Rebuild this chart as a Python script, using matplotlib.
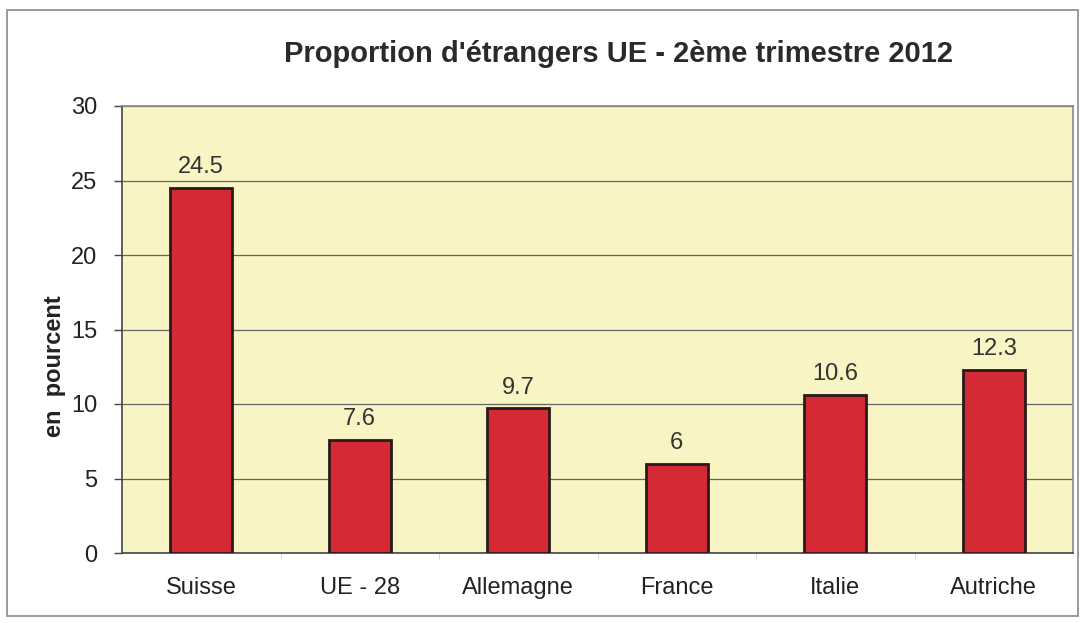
import matplotlib
matplotlib.use("Agg")
import matplotlib.pyplot as plt
from matplotlib.patches import Rectangle

categories = ["Suisse", "UE - 28", "Allemagne", "France", "Italie", "Autriche"]
values = [24.5, 7.6, 9.7, 6, 10.6, 12.3]
value_labels = ["24.5", "7.6", "9.7", "6", "10.6", "12.3"]
yticks = [0, 5, 10, 15, 20, 25, 30]

plt.rcParams['font.family'] = ['Liberation Sans', 'DejaVu Sans']

W, H = 1083, 623
fig = plt.figure(figsize=(W / 100, H / 100), dpi=100)
fig.patch.set_facecolor('white')

# outer border
fig.add_artist(Rectangle((7 / W, 1 - 616 / H), (1078 - 7) / W, (616 - 10) / H,
                         transform=fig.transFigure, fill=False,
                         edgecolor='#8a8a8a', linewidth=1.2))

left, right, top, bottom = 122, 1073, 106, 553
ax = fig.add_axes([left / W, 1 - bottom / H, (right - left) / W, (bottom - top) / H])
ax.set_facecolor('#f8f4c4')

x = list(range(len(categories)))
ax.bar(x, values, width=0.39, color='#d42a35', edgecolor='#2a1a1a', linewidth=2, zorder=3)

for xi, v, lab in zip(x, values, value_labels):
    ax.text(xi, v + 1.0, lab, ha='center', va='baseline', fontsize=17, color='#333333')

ax.set_xlim(-0.5, len(categories) - 0.5)
ax.set_ylim(0, 30)
ax.set_yticks(yticks)
ax.set_yticklabels([str(t) for t in yticks], fontsize=17, color='#222222')
ax.yaxis.grid(True, color='#666666', linewidth=0.9, zorder=0)
ax.set_axisbelow(True)
ax.tick_params(axis='y', length=6, width=1, color='#444444', pad=12)

ax.set_xticks(x)
ax.set_xticklabels(categories, fontsize=17, color='#222222')
ax.tick_params(axis='x', length=0, pad=17)
# minor boundary ticks
ax.set_xticks([i + 0.5 for i in range(len(categories) - 1)], minor=True)
ax.tick_params(axis='x', which='minor', length=4, color='#cccccc')

for s in ['top', 'right']:
    ax.spines[s].set_color('#8a8a8a')
    ax.spines[s].set_linewidth(1.2)
for s in ['left', 'bottom']:
    ax.spines[s].set_color('#444444')
    ax.spines[s].set_linewidth(1.2)

ax.set_ylabel('en  pourcent', fontsize=17, fontweight='bold', color='#222222')
ax.yaxis.set_label_coords((66 - left) / (right - left), (bottom - 366) / (bottom - top))

fig.text(618 / W, 1 - 54 / H, "Proportion d'étrangers UE - 2ème trimestre 2012",
         ha='center', va='center', fontsize=21, fontweight='bold', color='#2a2a2a')

fig.savefig('out.png', dpi=100)
